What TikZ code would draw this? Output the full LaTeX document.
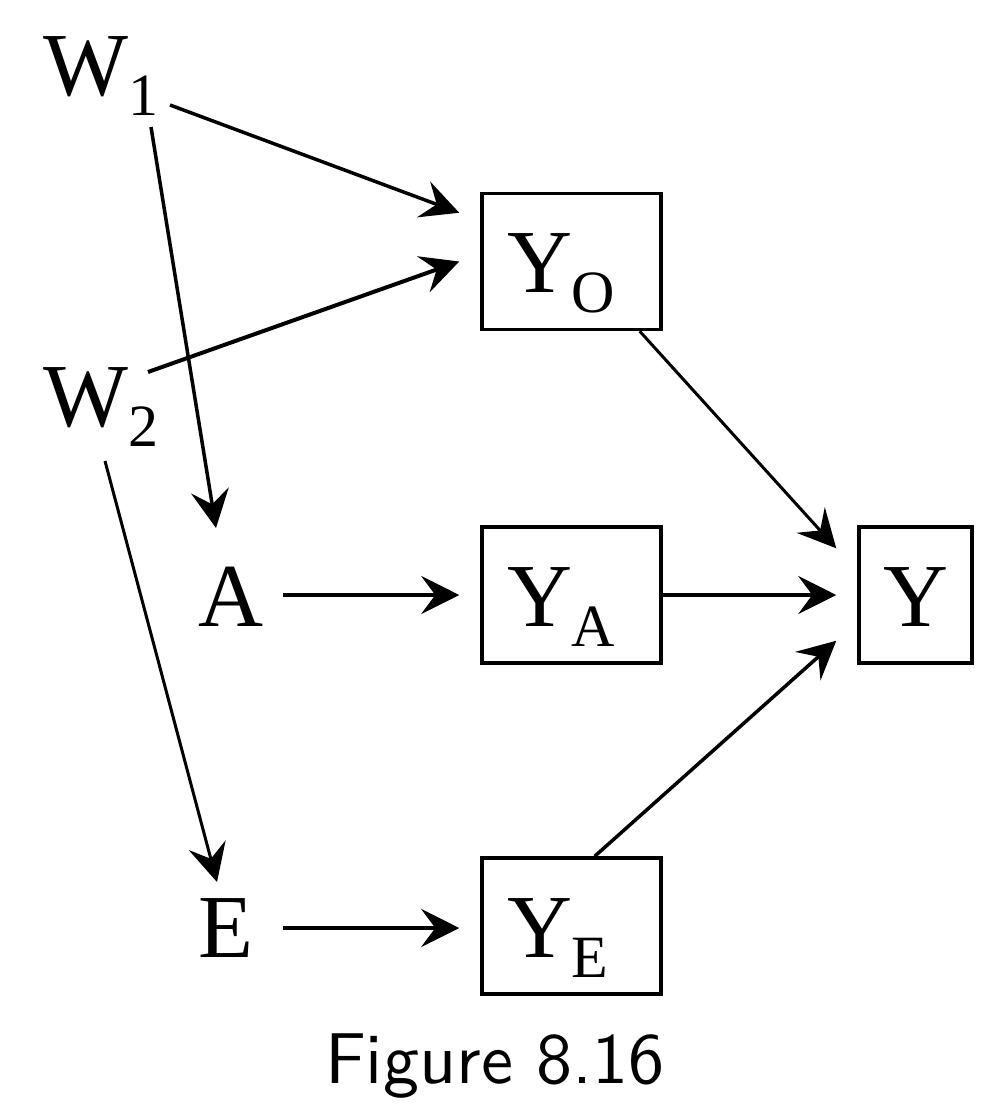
\documentclass[tikz,border=0pt]{standalone}
\usepackage{fontspec}
\setmainfont{Liberation Serif}
\newfontfamily\capfont{lmsans10-regular.otf}
\usetikzlibrary{arrows.meta,calc}
\newcommand\subtx[1]{\raisebox{-20pt}{\fontsize{60}{60}\selectfont #1}}
\tikzset{
  lbl/.style={inner sep=0pt, anchor=base west, font=\fontsize{90}{90}\selectfont},
  ybox/.style={draw, line width=3.5pt, inner xsep=25pt, inner ysep=0pt,
    text width=129pt, align=left, text height=99pt, text depth=37pt,
    font=\fontsize{90}{90}\selectfont},
  yfin/.style={draw, line width=3.5pt, inner xsep=0pt, inner ysep=0pt,
    minimum width=113pt, text height=99pt, text depth=37pt,
    font=\fontsize{90}{90}\selectfont},
  arr/.style={-{Stealth[length=38pt,width=38pt,inset=14pt]}, line width=#1},
  arr/.default=3.5pt
}
\begin{document}
\begin{tikzpicture}[x=1pt,y=-1pt]
\useasboundingbox (0,0) rectangle (994,1112);
% nodes
\node[lbl] (w1) at (43,95) {W\subtx{1}};
\node[lbl] (w2) at (43,426) {W\subtx{2}};
\node[lbl] (a) at (198,626) {A};
\node[lbl] (e) at (198,957) {E};
\node[ybox] (yo) at (571.5,261.5) {Y\subtx{O}};
\node[ybox] (ya) at (571.5,595) {Y\subtx{A}};
\node[ybox] (ye) at (571.5,926) {Y\subtx{E}};
\node[yfin] (y) at (915.5,595) {Y};
\node[anchor=base, inner sep=0pt, font=\capfont\fontsize{72}{72}\selectfont] (cap) at (495,1083) {Figure 8.16};
% connectors
\draw[arr=3.5pt] ($(w1.base west)+(127,10)$) -- ($(yo.north west)+(-21,21)$);
\draw[arr=4pt] ($(w2.base west)+(105,-54)$) -- ($(yo.west)+(-21,0)$);
\draw[arr=3.5pt] ($(w1.base west)+(108,32)$) -- ($(a.base west)+(18,-98)$);
\draw[arr=3pt] ($(w2.base west)+(62,35)$) -- ($(e.base west)+(19,-75)$);
\draw[arr=4pt] ($(a.base west)+(85,-31)$) -- ($(ya.west)+(-21,0)$);
\draw[arr=4pt] ($(e.base west)+(85,-29)$) -- ($(ye.west)+(-21,2)$);
\draw[arr=3pt] ($(yo.south east)+(-23,0)$) -- ($(y.north west)+(-21,23)$);
\draw[arr=4pt] (ya.east) -- ($(y.west)+(-21,0)$);
\draw[arr=3.5pt] ($(ye.north east)+(-68,0)$) -- ($(y.south west)+(-21,-24)$);
\end{tikzpicture}
\end{document}
